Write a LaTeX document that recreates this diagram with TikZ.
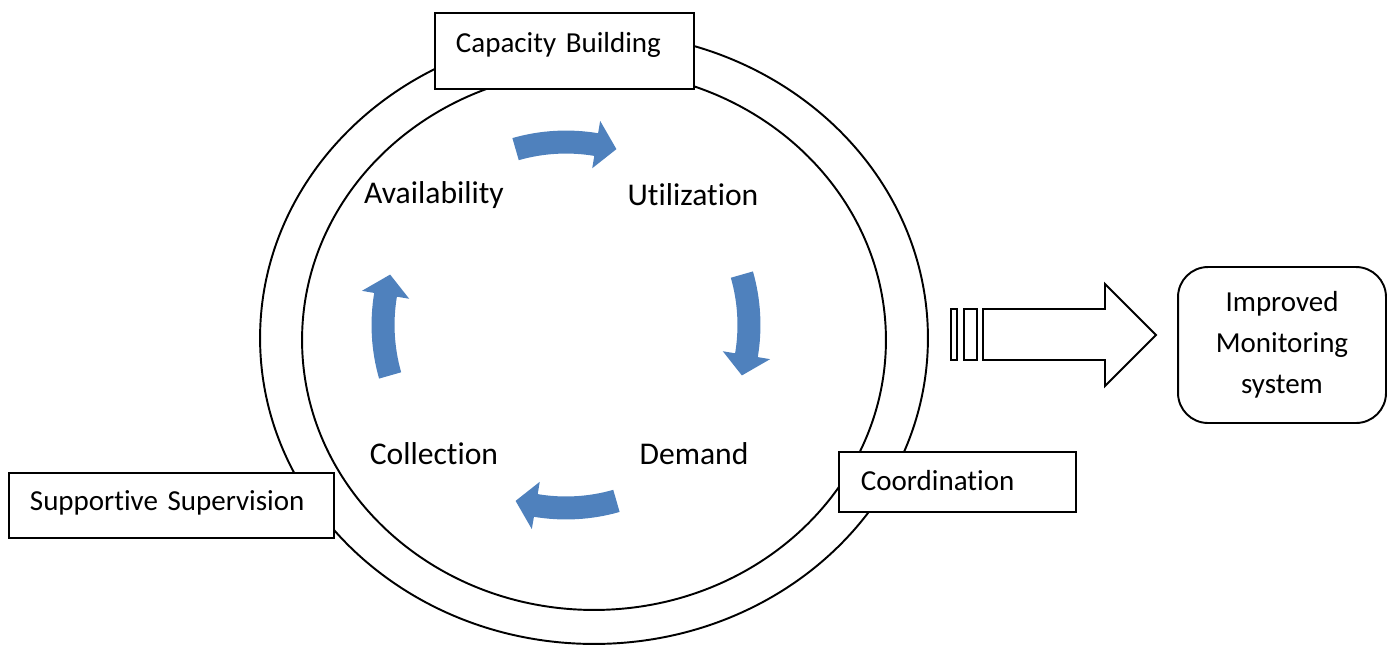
\documentclass[tikz,border=0pt]{standalone}
\usepackage{fontspec}
\setmainfont[Ligatures=NoCommon]{Carlito}
\usepackage{tikz}
\usetikzlibrary{positioning}
\definecolor{cycleblue}{RGB}{79,129,189}
\tikzset{
  ring/.style={draw, line width=1.1pt},
  tagbox/.style={draw, line width=1.1pt, fill=white, inner ysep=0pt, align=left, anchor=north west, font=\fontsize{16.5}{20}\selectfont},
  stage/.style={font=\fontsize{18}{22}\selectfont},
  outcome/.style={draw, line width=1.1pt, rounded corners=0.6cm, minimum width=4.16cm, minimum height=3.12cm, align=center, font=\fontsize{16.5}{23.3}\selectfont},
  cyclearrow/.style={fill=cycleblue, draw=none},
  blockarrow/.style={draw, line width=1.1pt, fill=white, line join=miter}
}

\begin{document}
\begin{tikzpicture}[x=0.02cm, y=-0.02cm]
      \useasboundingbox (0,0) rectangle (1393,647);
      \draw[ring] (594,338) ellipse [x radius=6.68cm, y radius=6.12cm];
      \draw[ring] (594,340) ellipse [x radius=5.84cm, y radius=5.40cm];
      \node[tagbox, inner xsep=0.42cm, text width=4.34cm, text height=0.80cm, text depth=0.72cm] (capacity) at (434,12) {Capacity Building};
      \node[tagbox, inner xsep=0.42cm, text width=5.66cm, text height=0.76cm, text depth=0.54cm] (supervision) at (8,472) {Supportive Supervision};
      \node[tagbox, inner xsep=0.44cm, text width=3.86cm, text height=0.78cm, text depth=0.42cm] (coordination) at (838,451) {Coordination};
      \node[stage] (avail) at (434,195) {Availability};
      \node[stage] (util) at (693,195) {Utilization};
      \node[stage] (demand) at (694,454) {Demand};
      \node[stage] (collect) at (434,454) {Collection};
      % four curved arrows running clockwise round the cycle
      \begin{scope}[shift={(566,325)}]
        \foreach \a in {90,0,-90,180}
          \fill[cyclearrow] ({\a+16}:3.89cm) arc[start angle=\a+16, end angle=\a-9.5, radius=3.89cm]
            -- ({\a-9.5}:4.14cm) -- ({\a-16}:3.66cm) -- ({\a-9.5}:3.18cm) -- ({\a-9.5}:3.43cm)
            arc[start angle=\a-9.5, end angle=\a+16, radius=3.43cm] -- cycle;
      \end{scope}
      % striped block arrow
      \draw[blockarrow] (951,309) rectangle (957,360);
      \draw[blockarrow] (964,309) rectangle (977,360);
      \draw[blockarrow] (983,309) -- (1105,309) -- (1105,284) -- (1156,335) -- (1105,386) -- (1105,360) -- (983,360) -- cycle;
      \node[outcome] (monitor) at (1282,345) {Improved\\Monitoring\\system};
    \end{tikzpicture}
\end{document}
